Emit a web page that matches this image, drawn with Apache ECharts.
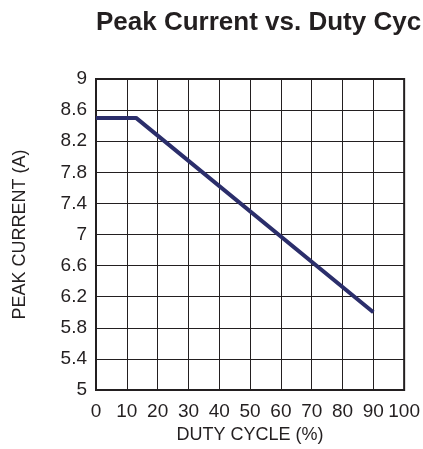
<!DOCTYPE html>
<html>
<head>
<meta charset="utf-8">
<script src="https://cdn.jsdelivr.net/npm/echarts@6/dist/echarts.min.js"></script>
<style>
  html, body { margin: 0; padding: 0; background: #fff; }
  #chart { width: 423px; height: 449px; }
</style>
</head>
<body>
<div id="chart"></div>
<script>
// duty cycle (%) and peak current (A)
const dutyCycle = [0, 13, 90];
const peakCurrent = [8.5, 8.5, 6.0];
const xTicks = [0, 10, 20, 30, 40, 50, 60, 70, 80, 90, 100];
const yTicks = [5, 5.4, 5.8, 6.2, 6.6, 7, 7.4, 7.8, 8.2, 8.6, 9];

// y axis is drawn as offset from the lowest tick so the 0.4 step starts at 5
const yBase = yTicks[0];
const yStep = 0.4;

const chart = echarts.init(document.getElementById("chart"), null, { renderer: "canvas" });

const font = "'Liberation Sans', Arial, sans-serif";
const ink = "#231f20";

chart.setOption({
  animation: false,
  title: {
    text: "Peak Current vs. Duty Cycle",
    left: 91,
    top: 5,
    textStyle: { fontFamily: font, fontWeight: "bold", fontSize: 26, color: ink },
  },
  grid: {
    left: 96,
    right: 15,
    top: 79,
    bottom: 58,
    show: true,
    borderColor: ink,
    borderWidth: 2,
    backgroundColor: "transparent",
  },
  xAxis: {
    type: "value",
    min: xTicks[0],
    max: xTicks[xTicks.length - 1],
    interval: 10,
    name: "DUTY CYCLE (%)",
    nameLocation: "middle",
    nameGap: 36,
    nameTextStyle: { fontFamily: font, fontSize: 18, color: ink },
    axisLine: { show: false },
    axisTick: { show: false },
    axisLabel: { fontFamily: font, fontSize: 19, color: ink, margin: 12 },
    splitLine: { show: true, lineStyle: { color: ink, width: 1 } },
  },
  yAxis: {
    type: "value",
    min: 0,
    max: yTicks[yTicks.length - 1] - yBase,
    interval: yStep,
    name: "PEAK CURRENT (A)",
    nameLocation: "middle",
    nameGap: 67,
    nameRotate: 90,
    nameTextStyle: { fontFamily: font, fontSize: 18, color: ink },
    axisLine: { show: false },
    axisTick: { show: false },
    axisLabel: {
      fontFamily: font,
      fontSize: 19,
      color: ink,
      margin: 9,
      formatter: (v) => String(parseFloat((v + yBase).toFixed(1))),
    },
    splitLine: { show: true, lineStyle: { color: ink, width: 1 } },
  },
  series: [
    {
      type: "line",
      data: dutyCycle.map((d, i) => [d, peakCurrent[i] - yBase]),
      showSymbol: false,
      lineStyle: { color: "#2b2e6b", width: 4 },
      itemStyle: { color: "#2b2e6b" },
    },
  ],
});
</script>
</body>
</html>
